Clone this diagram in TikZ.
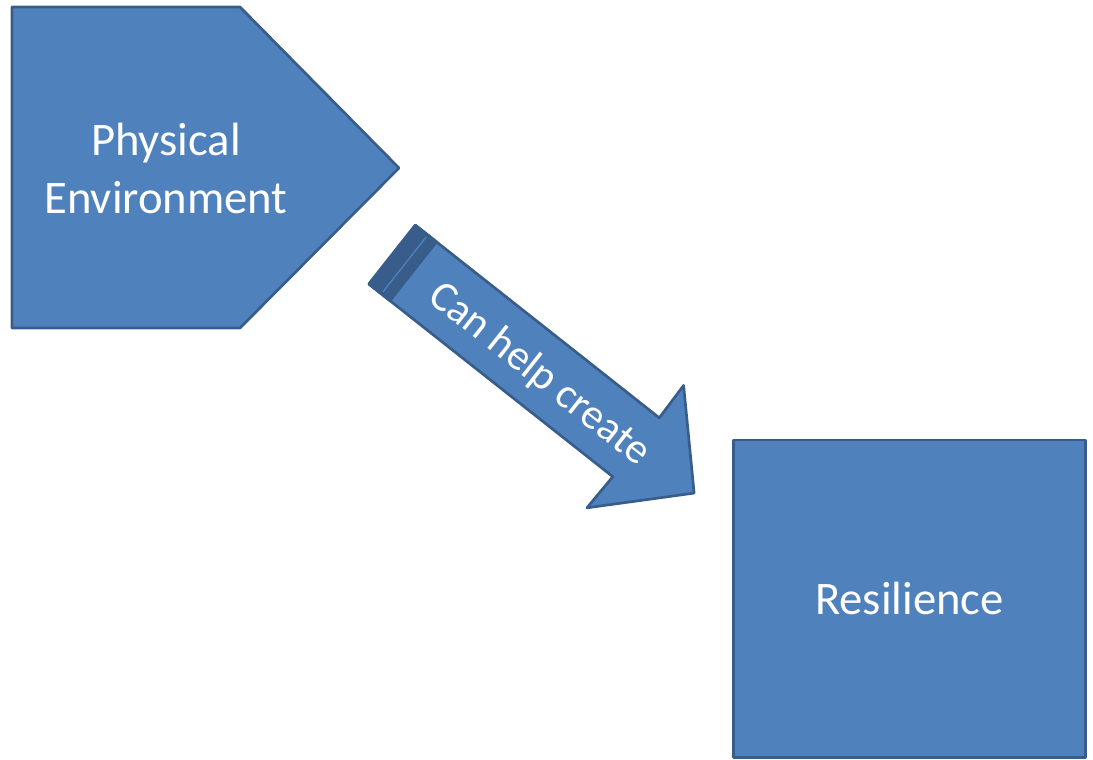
\documentclass[tikz,border=0pt]{standalone}
\usepackage{fontspec}
\setmainfont{Carlito}
\definecolor{boxblue}{HTML}{4F81BD}
\definecolor{edgeblue}{HTML}{385D8A}
\begin{document}
\begin{tikzpicture}[x = 0.75pt, y = -0.75pt, line width = 2pt,
                        blockshape/.style = {draw = edgeblue, fill = boxblue, line join = round},
                        caption/.style = {text = white, align = center, inner sep = 0pt,
                                          font = \fontsize{35pt}{43.5pt}\selectfont},
                        arrowtext/.style = {text = white, inner sep = 0pt,
                                            font = \fontsize{32pt}{38pt}\selectfont}]
      \useasboundingbox (0, 0) rectangle (1093, 760);
      % pentagon
      \draw [blockshape] (12, 7) -- (240, 7) -- (399, 168) -- (240, 328) -- (12, 328) -- cycle;
      \node [caption] (env) at (166, 168){Physical\\Environment};
      % square
      \node [blockshape, caption, minimum width = 264pt, minimum height = 238pt] (res) at (909.5, 598.5){Resilience};
      % block arrow
      \coordinate (tail) at (392, 254.5);
      \begin{scope}[shift = {(tail)}, rotate = -38.3]
        \draw [blockshape] (0, -37.5) -- (311, -37.5) -- (310, -78) -- (385, 0) -- (310, 78) -- (311, 37.5) -- (0, 37.5) -- cycle;
        \fill [edgeblue] (0, -37.5) rectangle (27, 37.5);
        \draw [boxblue, line width = 1pt] (16, -35) -- (16, 35);
        \draw [edgeblue] (0, -37.5) -- (27, -37.5) -- (27, 37.5) -- (0, 37.5);
        \node [arrowtext, rotate = -38.3] (help) at (190, 3){Can help create};
      \end{scope}
    \end{tikzpicture}
\end{document}
